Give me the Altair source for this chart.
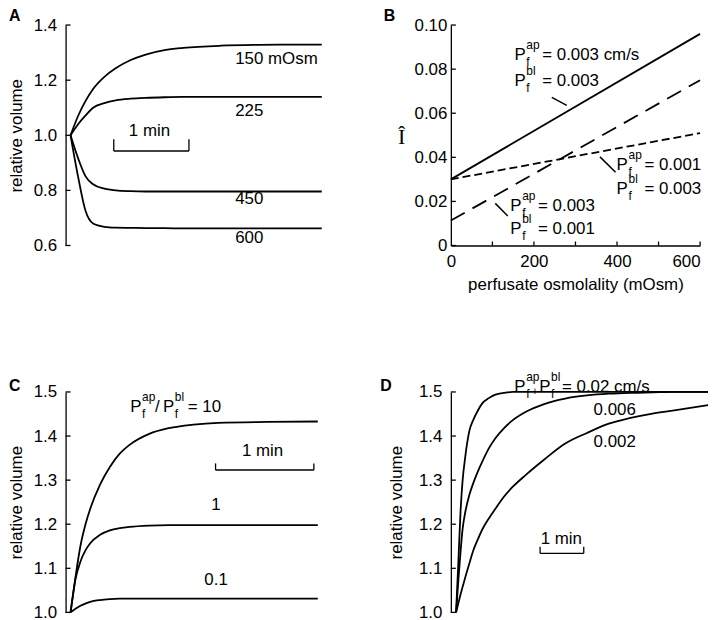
import altair as alt
import pandas as pd

FONT = "Liberation Sans"
LW = 1.8

# ---------------- data ----------------
# Panel A: relative volume vs time (min) for perfusate osmolality
tA = [0, 0.1, 0.2, 0.3, 0.45, 0.6, 0.8, 1.0, 1.25, 1.5, 2.0, 2.5, 3.0, 3.342]
a150 = [1.0, 1.07, 1.125, 1.168, 1.212, 1.243, 1.273, 1.293, 1.309, 1.317, 1.325, 1.328, 1.329, 1.329]
a225 = [1.0, 1.04, 1.072, 1.1, 1.117, 1.127, 1.133, 1.136, 1.138, 1.139, 1.139, 1.139, 1.139, 1.139]
a450 = [1.0, 0.917, 0.851, 0.822, 0.806, 0.8, 0.797, 0.796, 0.796, 0.796, 0.796, 0.796, 0.796, 0.796]
a600 = [1.0, 0.85, 0.725, 0.68, 0.668, 0.665, 0.664, 0.663, 0.663, 0.662, 0.662, 0.662, 0.662, 0.662]
aLabels = ["150 mOsm", "225", "450", "600"]
aTicks = [0.6, 0.8, 1.0, 1.2, 1.4]

# Panel B: I-hat vs perfusate osmolality
bX = [0, 600]
bSolid = [0.030, 0.096]     # Pap=0.003, Pbl=0.003
bLong = [0.0113, 0.075]     # Pap=0.003, Pbl=0.001
bShort = [0.030, 0.051]     # Pap=0.001, Pbl=0.003
bSup = ["ap", "bl", "ap", "bl", "ap", "bl"]
bRest = ["= 0.003 cm/s", "= 0.003", "= 0.001", "= 0.003", "= 0.003", "= 0.001"]
bYTicks = [0, 0.02, 0.04, 0.06, 0.08, 0.10]
bXTicks = [0, 100, 200, 300, 400, 500, 600]

# Panel C: ratio Pap/Pbl
tC = [0, 0.05, 0.1, 0.15, 0.2, 0.3, 0.4, 0.5, 0.6, 0.8, 1.0, 1.25, 1.5, 2.0, 2.515]
c10 = [1.0, 1.08, 1.15, 1.198, 1.235, 1.29, 1.33, 1.36, 1.38, 1.405, 1.418, 1.426, 1.43, 1.432, 1.433]
c1 = [1.0, 1.075, 1.115, 1.14, 1.157, 1.176, 1.186, 1.191, 1.194, 1.197, 1.198, 1.198, 1.198, 1.198, 1.198]
c01 = [1.0, 1.008, 1.015, 1.02, 1.024, 1.028, 1.03, 1.031, 1.031, 1.031, 1.031, 1.031, 1.031, 1.031, 1.031]
cLabels = ["1", "0.1"]
cTicks = [1.0, 1.1, 1.2, 1.3, 1.4, 1.5]

# Panel D: Pap + Pbl
tD = [0, 0.05, 0.1, 0.15, 0.2, 0.3, 0.4, 0.5, 0.6, 0.75, 0.9, 1.1, 1.3, 1.6, 2.0, 2.5, 3.0, 3.5, 4.0, 4.5, 5.0, 5.773]
d002 = [1.0, 1.11, 1.225, 1.30, 1.345, 1.41, 1.438, 1.458, 1.474, 1.486, 1.494, 1.498, 1.5, 1.5, 1.5, 1.5, 1.5, 1.5, 1.5, 1.5, 1.5, 1.5]
d0006 = [1.0, 1.07, 1.135, 1.19, 1.222, 1.265, 1.295, 1.32, 1.342, 1.372, 1.395, 1.418, 1.436, 1.455, 1.472, 1.485, 1.492, 1.496, 1.498, 1.499, 1.5, 1.5]
d0002 = [1.0, 1.02, 1.04, 1.058, 1.076, 1.11, 1.142, 1.166, 1.188, 1.213, 1.235, 1.263, 1.285, 1.312, 1.345, 1.383, 1.407, 1.428, 1.441, 1.451, 1.458, 1.47]
dLabels = ["0.006", "0.002"]
dTicks = [1.0, 1.1, 1.2, 1.3, 1.4, 1.5]

panelLetters = ["A", "B", "C", "D"]

# ---------------- helpers ----------------
def sc(dom):
    return alt.Scale(domain=dom, nice=False, zero=False)


def long_df(t, series):
    rows = []
    for name, vals in series:
        for ti, vi in zip(t, vals):
            rows.append({"t": ti, "v": vi, "s": name})
    return pd.DataFrame(rows)


def curves(df, dash=None):
    kw = {}
    if dash is not None:
        kw["strokeDash"] = dash
    return alt.Chart(df).mark_line(color="black", strokeWidth=LW, interpolate="monotone", **kw).encode(
        detail="s:N")


def texts(df, align="left", size=17, dx=0, dy=0, field="label"):
    return alt.Chart(df).mark_text(align=align, baseline="alphabetic", fontSize=size, dx=dx, dy=dy,
                                   font=FONT, color="black").encode(text=alt.Text(field + ":N"))


def const_text(df, txt, size=17, dx=0, dy=0):
    return alt.Chart(df).mark_text(align="left", baseline="alphabetic", fontSize=size, dx=dx, dy=dy,
                                   font=FONT, color="black", text=txt).encode(opacity=alt.value(1))


def rules(df, width=1.3):
    return alt.Chart(df).mark_rule(color="black", strokeWidth=width).encode(x2="t2:Q", y2="v2:Q")


def scale_bar(t1, t2, v, vtop):
    df = pd.DataFrame({"t": [t1, t1, t2], "t2": [t2, t1, t2], "v": [v, v, v], "v2": [v, vtop, vtop]})
    return rules(df, width=1.3)


def ytick_rules(vals, x0, x1):
    return alt.Chart(pd.DataFrame({"v": vals})).mark_rule(color="black", strokeWidth=1.3).encode(
        x=alt.value(x0), x2=alt.value(x1))


def letter(txt, px, py):
    return alt.Chart(pd.DataFrame({"label": [txt]})).mark_text(
        align="left", baseline="top", fontSize=16, fontWeight="bold", font=FONT, color="black"
    ).encode(x=alt.value(px), y=alt.value(py), text="label:N")


def vol_axis(vals, offset, tx):
    return alt.Axis(values=vals, format=".1f", offset=offset, ticks=False, labelPadding=9,
                    labelFlush=False, title="relative volume", titleX=tx, titleBaseline="alphabetic")


def xy(xd, yd, xaxis, yaxis):
    return dict(x=alt.X("t:Q", scale=sc(xd), axis=xaxis), y=alt.Y("v:Q", scale=sc(yd), axis=yaxis))


H = 222

# ---------------- Panel A ----------------
xA = [0, 3.342]
yA = [0.6, 1.4]
dfA = long_df(tA, [("150", a150), ("225", a225), ("450", a450), ("600", a600)])
labA = pd.DataFrame({"t": [2.19] * 4, "v": [1.26, 1.07, 0.75, 0.61], "label": aLabels})
minA = pd.DataFrame({"t": [1.05], "v": [0.996], "label": ["1 min"]})
panelA = alt.layer(
    curves(dfA),
    ytick_rules(aTicks, -5, 0),
    texts(labA),
    texts(minA, align="center"),
    scale_bar(0.575, 1.575, 0.943, 0.986),
    letter(panelLetters[0], -62, -17),
).encode(**xy(xA, yA, None, vol_axis(aTicks, 5, -44))).properties(width=253, height=H)

# ---------------- Panel B ----------------
xB = [0, 600]
yB = [0, 0.1]
dfB = pd.DataFrame({"t": bX * 3, "v": bSolid + bLong + bShort,
                    "s": ["solid"] * 2 + ["long"] * 2 + ["short"] * 2})
baxisY = alt.Axis(values=bYTicks, labelExpr="datum.value == 0 ? '0' : format(datum.value, '.2f')",
                  ticks=False, labelPadding=4, labelFlush=False, title="Î", titleAngle=0, titleX=-50,
                  titleY=119, titleFont="Liberation Serif", titleFontSize=22, titleAlign="center",
                  titleBaseline="alphabetic")
baxisX = alt.Axis(values=bXTicks, labelExpr="datum.value % 200 == 0 ? datum.label : ''",
                  ticks=False, labelPadding=8, labelFlush=False,
                  title="perfusate osmolality (mOsm)", titlePadding=7,
                  labelAlign=alt.condition("datum.value == 600", alt.value("right"), alt.value("center")))
lineB_solid = alt.Chart(dfB[dfB.s == "solid"]).mark_line(color="black", strokeWidth=LW).encode(detail="s:N")
lineB_long = alt.Chart(dfB[dfB.s == "long"]).mark_line(color="black", strokeWidth=LW,
                                                        strokeDash=[16, 9]).encode(detail="s:N")
lineB_short = alt.Chart(dfB[dfB.s == "short"]).mark_line(color="black", strokeWidth=LW,
                                                          strokeDash=[8, 4]).encode(detail="s:N")

labB = pd.DataFrame({"t": [153, 153, 399, 399, 143, 143],
                     "v": [0.0840, 0.0723, 0.0341, 0.0232, 0.0157, 0.0052],
                     "sup": bSup, "rest": bRest})
leadB = pd.DataFrame({"t": [243, 359, 107], "t2": [279, 396.5, 137],
                      "v": [0.0672, 0.0402, 0.0191], "v2": [0.0636, 0.0332, 0.0134]})
xtickB = alt.Chart(pd.DataFrame({"t": bXTicks[1:]})).mark_rule(color="black", strokeWidth=1.3).encode(
    y=alt.value(H), y2=alt.value(H - 4))
panelB = alt.layer(
    lineB_solid, lineB_long, lineB_short,
    ytick_rules(bYTicks, 0, 5),
    xtickB,
    const_text(labB, "P"),
    const_text(labB, "f", size=12, dx=12, dy=6),
    texts(labB, size=12, dx=12, dy=-11, field="sup"),
    texts(labB, dx=28, field="rest"),
    rules(leadB, width=1.5),
    letter(panelLetters[1], -67.7, -17),
).encode(**xy(xB, yB, baxisX, baxisY)).properties(width=251, height=H)

# ---------------- Panel C ----------------
xC = [0, 2.515]
yC = [1.0, 1.5]
dfC = long_df(tC, [("10", c10), ("1", c1), ("0.1", c01)])
labC = pd.DataFrame({"t": [1.48, 1.48], "v": [1.233, 1.062], "label": cLabels})
minC = pd.DataFrame({"t": [1.953], "v": [1.355], "label": ["1 min"]})
pC = pd.DataFrame({"t": [0.606], "v": [1.455]})
panelC = alt.layer(
    curves(dfC),
    ytick_rules(cTicks, -5, 0),
    texts(labC, align="center"),
    texts(minC, align="center"),
    scale_bar(1.475, 2.475, 1.323, 1.338),
    const_text(pC, "P"),
    const_text(pC, "f", size=12, dx=12, dy=6),
    const_text(pC, "ap", size=12, dx=12, dy=-11),
    const_text(pC, "/", dx=25),
    const_text(pC, "P", dx=33),
    const_text(pC, "f", size=12, dx=45, dy=6),
    const_text(pC, "bl", size=12, dx=45, dy=-11),
    const_text(pC, "= 10", dx=58),
    letter(panelLetters[2], -62, -14),
).encode(**xy(xC, yC, None, vol_axis(cTicks, 5, -44))).properties(width=249, height=H)

# ---------------- Panel D ----------------
# plot area starts at the axis line; curves start 0.12 min to its right
xD = [-0.12, 5.773]
yD = [1.0, 1.5]
dfD = long_df(tD, [("0.02", d002), ("0.006", d0006), ("0.002", d0002)])
labD = pd.DataFrame({"t": [3.15, 3.15], "v": [1.447, 1.376], "label": dLabels})
minD = pd.DataFrame({"t": [2.41], "v": [1.154], "label": ["1 min"]})
pD = pd.DataFrame({"t": [1.334], "v": [1.5]})
panelD = alt.layer(
    curves(dfD),
    ytick_rules(dTicks, 0, 5),
    texts(labD),
    texts(minD, align="center"),
    scale_bar(1.925, 2.925, 1.134, 1.149),
    const_text(pD, "P"),
    const_text(pD, "f", size=12, dx=12, dy=6),
    const_text(pD, "ap", size=12, dx=12, dy=-11),
    const_text(pD, "+", size=11, dx=17.5, dy=3),
    const_text(pD, "P", dx=25),
    const_text(pD, "f", size=12, dx=37, dy=6),
    const_text(pD, "bl", size=12, dx=37, dy=-11),
    const_text(pD, "= 0.02 cm/s", dx=48),
    letter(panelLetters[3], -71, -14),
).encode(**xy(xD, yD, None, vol_axis(dTicks, 0, -50))).properties(width=259, height=H)

chart = alt.concat(panelA, panelB, panelC, panelD, columns=2, bounds="flush",
                   spacing={"row": 147.5, "column": 130}).properties(
    padding={"left": 0, "top": -2, "right": 0, "bottom": 0}
).configure_view(stroke=None).configure_axis(
    labelFont=FONT, titleFont=FONT, labelFontSize=17, titleFontSize=17,
    labelColor="black", titleColor="black", domainColor="black", domainWidth=1.3,
    grid=False, titleFontWeight="normal",
)

chart.save("out.html", embed_options={"renderer": "svg", "actions": False})
